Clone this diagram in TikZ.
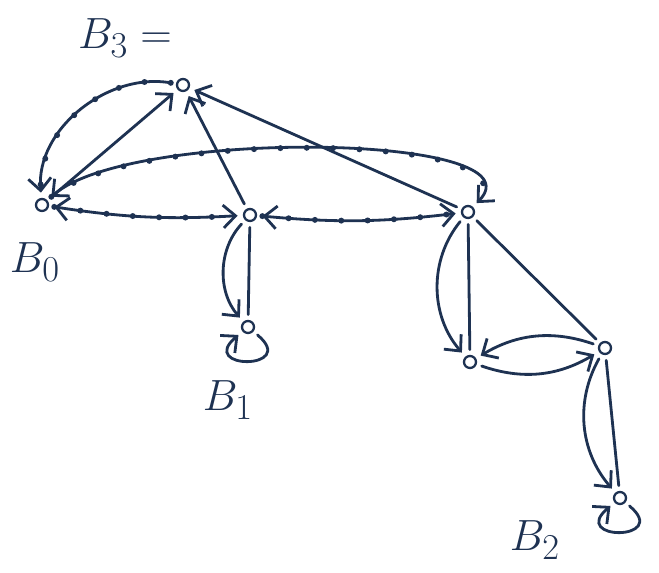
\documentclass[tikz,border=0pt]{standalone}
\usepackage{amsmath,amssymb}
\usepackage{xcolor}
\usepackage{tikz}
\usetikzlibrary{arrows.meta,positioning}
\definecolor{inkblue}{RGB}{30,50,82}
\tikzset{
  vtx/.style={circle,draw=inkblue,line width=1.3pt,minimum size=0.24cm,inner sep=0pt},
  pen/.style={draw=inkblue,line width=1.6pt,line cap=round,shorten <=3pt,shorten >=3pt},
  arr/.style={pen,-{Straight Barb[length=7pt,width=13pt]}},
  arrtwo/.style={pen,{Straight Barb[length=7pt,width=13pt]}-{Straight Barb[length=7pt,width=13pt]}},
  dotline/.style={postaction={draw=inkblue,-,dash pattern=on 0pt off 15pt,line cap=round,line width=3.4pt}},
  lbl/.style={text=inkblue,font=\Huge}
}
\begin{document}
\begin{tikzpicture}[x=0.02cm,y=0.02cm]
        \useasboundingbox (0,0) rectangle (659,573);
        % ---- tugunlar ----
        \node[vtx] (T)  at (183,488) {};
        \node[vtx] (B0) at (42,368) {};
        \node[vtx] (M)  at (250,358) {};
        \node[vtx] (R)  at (468,361) {};
        \node[vtx] (B1) at (248,246) {};
        \node[vtx] (L2) at (470,211) {};
        \node[vtx] (R2) at (605,225) {};
        \node[vtx] (B2) at (620,75) {};
        % ---- yorliqlar ----
        \node[lbl] (lB3) at (125,535) {$B_3 =$};
        \node[lbl] (lB0) at (35,311) {$B_0$};
        \node[lbl] (lB1) at (228,173) {$B_1$};
        \node[lbl] (lB2) at (535,33) {$B_2$};
        % ---- yuqori tugunga ----
        \draw[arr] (B0) -- (T);
        \draw[arr] (M) -- (T);
        \draw[arr] (R) -- (T);
        \draw[arr,dotline] (T) to[out=170,in=95] (B0);
        % ---- gorizontal qirralar ----
        \draw[arrtwo,dotline] (B0) to[bend right=6] (M);
        \draw[arrtwo,dotline] (M) to[bend right=6] (R);
        \draw[arrtwo,dotline] (B0) .. controls (130,445) and (545,440) .. (R);
        % ---- pastki qirralar ----
        \draw[pen] (M) -- (B1);
        \draw[arr] (M) to[bend right=42] (B1);
        \draw[pen] (R) -- (L2);
        \draw[arr] (R) to[bend right=40] (L2);
        \draw[pen] (R) -- (R2);
        \draw[arr] (R2) to[bend right=25] (L2);
        \draw[arr] (L2) to[bend right=25] (R2);
        \draw[pen] (R2) -- (B2);
        \draw[arr] (R2) to[bend right=35] (B2);
        % ---- halqalar ----
        \draw[arr] (B1) to[out=-40,in=-140,looseness=10,min distance=1.2cm] (B1);
        \draw[arr] (B2) to[out=-40,in=-140,looseness=10,min distance=1.2cm] (B2);
      \end{tikzpicture}
\end{document}
